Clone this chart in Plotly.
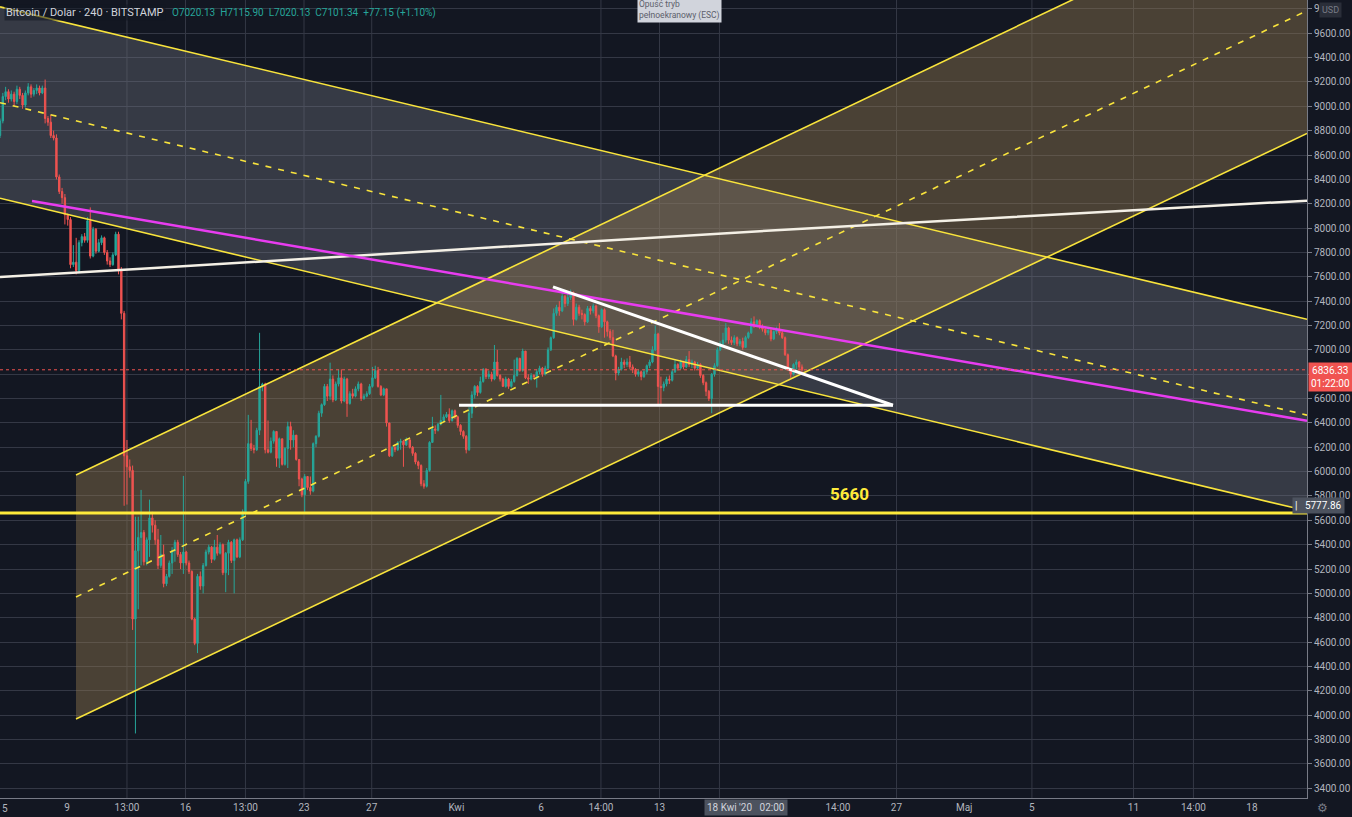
import pandas as pd
import plotly.graph_objects as go

BG = "#131722"
GRID = "#343845"
UP = "#26a69a"
DOWN = "#ef5350"
YELLOW = "#f9e43c"
MAGENTA = "#e83cf0"
TEXT = "#b2b5be"

# BTC/USD 4h candles (Bitstamp); one row = one day (6 bars)
first_open = 8760
closes = [
    8880, 9080, 9120, 9060, 9100, 9040,
    9140, 9090, 9010, 9110, 9160, 9100,
    9130, 9150, 9110, 9150, 8900, 8870,
    8760, 8740, 8420, 8300, 8250, 8110,
    8070, 7700, 7720, 7650, 7880, 7930,
    7900, 8060, 7770, 7990, 7810, 7880,
    7920, 7800, 7730, 7700, 7780, 7950,
    7650, 7300, 6130, 6040, 6010, 4790,
    5350, 5460, 5500, 5260, 5440, 5620,
    5560, 5440, 5230, 5320, 5080, 5140,
    5250, 5350, 5420, 5320, 5250, 5340,
    5250, 5180, 4790, 4590, 5140, 5060,
    5230, 5340, 5380, 5280, 5380, 5330,
    5400, 5170, 5330, 5420, 5270, 5440,
    5300, 5440, 5670, 5920, 6230, 6190,
    6180, 6340, 6700, 6720, 6180, 6160,
    6250, 6330, 6110, 6270, 6060, 6190,
    6370, 6260, 6300, 6100, 5940, 5810,
    5960, 5870, 5840, 6230, 6290, 6480,
    6550, 6700, 6620, 6760, 6590, 6720,
    6770, 6580, 6760, 6560, 6640, 6620,
    6680, 6720, 6600, 6620, 6640, 6700,
    6770, 6830, 6700, 6630, 6680, 6400,
    6130, 6200, 6180, 6240, 6250, 6220,
    6260, 6200, 6150, 6080, 6050, 5900,
    5880, 6010, 6240, 6350, 6340, 6390,
    6420, 6450, 6470, 6420, 6500, 6450,
    6380, 6330, 6290, 6180, 6480, 6630,
    6700, 6650, 6740, 6840, 6780, 6800,
    6760, 6900, 6790, 6760, 6700, 6760,
    6700, 6740, 6790, 6930, 6830, 6990,
    6770, 6760, 6790, 6780, 6820, 6850,
    6800, 6850, 7000, 7100, 7300, 7350,
    7320, 7440, 7380, 7430, 7470, 7250,
    7350, 7300, 7290, 7230, 7340, 7320,
    7360, 7280, 7190, 7330, 7230, 7150,
    7100, 6950, 6810, 6840, 6900, 6880,
    6900, 6860, 6840, 6800, 6820, 6780,
    6820, 6870, 6900, 7000, 7130, 6700,
    6690, 6720, 6760, 6750, 6820, 6880,
    6850, 6900, 6860, 6920, 6880, 6900,
    6850, 6880, 6790, 6730, 6660, 6600,
    6800, 6870, 7000, 7050, 7080, 7180,
    7080, 7060, 7100, 7050, 7070, 7020.13,
    7101.34, 7140, 7230, 7210, 7240, 7190,
    7170, 7140, 7160, 7090, 7150, 7170,
    7140, 7100, 6960, 6840, 6800, 6880,
    6900, 6860, 6836.33,
]
highs = [
    8900, 9110, 9160, 9140, 9130, 9120,
    9170, 9160, 9110, 9130, 9190, 9180,
    9150, 9180, 9170, 9170, 9220, 8920,
    8930, 8800, 8770, 8440, 8330, 8280,
    8120, 8090, 7860, 7920, 7900, 7950,
    7960, 8090, 8170, 8010, 8000, 7910,
    7940, 7930, 7820, 7760, 7800, 7970,
    7970, 7680, 7320, 6260, 6100, 6050,
    5630, 5630, 5850, 5520, 5460, 5770,
    5670, 5600, 5530, 5480, 5400, 5160,
    5270, 5380, 5440, 5440, 5340, 5965,
    5350, 5270, 5190, 4800, 5160, 5180,
    5250, 5360, 5400, 5390, 5440, 5480,
    5420, 5410, 5340, 5440, 5430, 5450,
    5450, 5460, 5690, 5940, 6466, 6425,
    6220, 6360, 7140, 6730, 6730, 6420,
    6280, 6340, 6330, 6280, 6270, 6200,
    6410, 6410, 6340, 6300, 6100, 5950,
    5980, 5960, 5960, 6240, 6300, 6500,
    6560, 6720, 6720, 6895, 6790, 6740,
    6840, 6840, 6780, 6770, 6660, 6680,
    6700, 6740, 6730, 6640, 6660, 6720,
    6860, 6870, 6860, 6710, 6690, 6680,
    6400, 6210, 6220, 6250, 6270, 6260,
    6280, 6270, 6210, 6160, 6090, 6060,
    5930, 6030, 6250, 6450, 6380, 6400,
    6630, 6470, 6490, 6520, 6510, 6510,
    6460, 6390, 6340, 6300, 6530, 6660,
    6710, 6710, 6780, 6850, 6850, 6830,
    6820, 7040, 7000, 6800, 6770, 6780,
    6770, 6760, 6920, 6940, 6935, 7010,
    6990, 6800, 6810, 6800, 6840, 6870,
    6860, 6870, 7020, 7110, 7340, 7370,
    7400, 7470, 7450, 7460, 7495, 7480,
    7380, 7370, 7330, 7300, 7360, 7360,
    7380, 7370, 7290, 7340, 7340, 7240,
    7170, 7165, 6960, 6860, 6935, 6920,
    6930, 6950, 6880, 6850, 6840, 6830,
    6840, 6880, 6920, 7030, 7200, 7140,
    6780, 6740, 6780, 6790, 6840, 6920,
    6890, 6920, 6910, 6950, 6990, 6920,
    6910, 6900, 6890, 6800, 6740, 6670,
    6810, 6890, 7020, 7070, 7140, 7220,
    7190, 7110, 7120, 7110, 7090, 7100,
    7115.90, 7150, 7260, 7275, 7250, 7250,
    7210, 7180, 7180, 7170, 7160, 7190,
    7220, 7160, 7110, 6970, 6850, 6890,
    6920, 6910, 6880,
]
lows = [
    8740, 8860, 9050, 9030, 9040, 9000,
    9020, 9060, 8980, 8990, 9090, 9070,
    9080, 9100, 9090, 9100, 8860, 8840,
    8740, 8720, 8400, 8280, 8200, 8030,
    8020, 7670, 7680, 7620, 7640, 7850,
    7880, 7880, 7750, 7760, 7790, 7800,
    7860, 7780, 7700, 7680, 7690, 7770,
    7620, 7250, 5720, 5730, 5950, 4700,
    3850, 4870, 5230, 5230, 5230, 5300,
    5500, 5400, 5200, 5210, 5050, 5060,
    5130, 5160, 5260, 5300, 5200, 5160,
    5230, 5160, 4780, 4575, 4510, 5030,
    5000, 5220, 5320, 5250, 5270, 5310,
    5320, 5150, 5010, 5150, 5250, 5000,
    5290, 5290, 5430, 5630, 5900, 6170,
    6150, 6170, 6300, 6660, 6150, 6150,
    6150, 6230, 6040, 6030, 6050, 6050,
    6030, 6180, 6200, 6090, 5880, 5790,
    5670, 5850, 5810, 5830, 6200, 6280,
    6450, 6540, 6580, 6590, 6570, 6580,
    6700, 6560, 6570, 6450, 6550, 6600,
    6610, 6660, 6580, 6590, 6610, 6630,
    6690, 6760, 6690, 6620, 6620, 6370,
    6120, 6120, 6160, 6170, 6180, 6040,
    6210, 6190, 6130, 6060, 6020, 5880,
    5860, 5870, 6000, 6240, 6310, 6330,
    6380, 6410, 6440, 6400, 6410, 6430,
    6360, 6300, 6270, 6150, 6170, 6440,
    6600, 6620, 6640, 6730, 6760, 6760,
    6740, 6750, 6780, 6740, 6700, 6690,
    6680, 6690, 6730, 6780, 6820, 6820,
    6760, 6720, 6750, 6760, 6690, 6800,
    6780, 6790, 6840, 6990, 7090, 7280,
    7280, 7310, 7350, 7360, 7410, 7200,
    7240, 7280, 7250, 7200, 7220, 7290,
    7300, 7260, 7140, 7180, 7100, 7110,
    7080, 6940, 6750, 6790, 6830, 6850,
    6860, 6840, 6810, 6780, 6780, 6750,
    6770, 6800, 6850, 6890, 6990, 6550,
    6550, 6660, 6700, 6720, 6740, 6810,
    6830, 6840, 6840, 6850, 6860, 6850,
    6830, 6840, 6770, 6710, 6620, 6580,
    6480, 6780, 6860, 6990, 7030, 7060,
    7050, 7040, 7040, 7030, 7030, 7000,
    7020.13, 7090, 7130, 7180, 7200, 7170,
    7150, 7120, 7120, 7070, 7080, 7130,
    7120, 7090, 6950, 6830, 6770, 6790,
    6840, 6830, 6800,
]
opens = [first_open] + closes[:-1]
bar_times = (pd.date_range("2020-03-05 00:00", periods=len(closes), freq="4h", tz="UTC")
             .tz_convert("Europe/Warsaw").tz_localize(None))

x_left, x_right = "2020-03-05 01:00", "2020-05-21 06:00"

# falling channel (grey)
down_t = [x_left, x_right]
down_upper = [9817, 7251]
down_mid = [9030, 6464]
down_lower_edge = [8245, 5677]
down_lower_t = [x_left, "2020-05-20 10:00"]
down_lower = [8245, 5705]

# rising channel (brown)
up_t = ["2020-03-09 12:45", x_right]
up_upper = [5973, 10793]
up_mid = [4971, 9785]
up_lower = [3969, 8777]

magenta_t = ["2020-03-06 22:25", x_right]
magenta_p = [8223, 6418]

ma_t = ["2020-03-05 01:00", "2020-03-13 21:40", "2020-03-31 15:00",
        "2020-04-20 02:50", "2020-05-07 20:00", "2020-05-21 06:00"]
ma_p = [7599, 7670, 7820, 7985, 8122, 8225]

tri_t = ["2020-04-06 17:00", "2020-04-26 19:00", "2020-04-01 03:45"]
tri_p = [7517, 6545, 6545]

support = 5660
last_price = 6836.33

tick_times = ["2020-03-09", "2020-03-12 13:00", "2020-03-16", "2020-03-19 13:00",
              "2020-03-23", "2020-03-27", "2020-04-01", "2020-04-06",
              "2020-04-09 13:00", "2020-04-13", "2020-04-23 13:00", "2020-04-27",
              "2020-05-01", "2020-05-05", "2020-05-11", "2020-05-14 13:00", "2020-05-18"]
tick_text = ["9", "13:00", "16", "13:00", "23", "27", "Kwi", "6", "14:00", "13",
             "14:00", "27", "Maj", "5", "11", "14:00", "18"]
vgrid_times = ["2020-03-12 13:00", "2020-03-16", "2020-03-19 13:00", "2020-03-23",
               "2020-03-27", "2020-04-09 13:00", "2020-04-13", "2020-04-16 13:00",
               "2020-04-27", "2020-05-05", "2020-05-11", "2020-05-14 13:00"]
price_ticks = list(range(3400, 9801, 200))
# 6800 sits under the red last-price label, 9800 mostly under the USD badge
price_text = ["" if v == 6800 else "9" if v == 9800 else f"{v:.2f}" for v in price_ticks]

Y_RANGE = [3320, 9873]
PW, PH = 1307, 798


def px(x):
    return x / PW


def py(y):
    return 1 - y / PH


fig = go.Figure()

# channel fills sit on the base axis, under the candles
fig.add_trace(go.Scatter(
    x=down_t + down_t[::-1], y=down_upper + down_lower_edge[::-1],
    fill="toself", fillcolor="rgba(120,123,134,0.35)", mode="none", hoverinfo="skip"))
fig.add_trace(go.Scatter(
    x=up_t + up_t[::-1], y=up_upper + up_lower[::-1],
    fill="toself", fillcolor="rgba(150,125,80,0.42)", mode="none", hoverinfo="skip"))

fig.add_trace(go.Candlestick(
    x=bar_times, open=opens, high=highs, low=lows, close=closes, yaxis="y2",
    increasing=dict(line=dict(color=UP, width=1), fillcolor=UP),
    decreasing=dict(line=dict(color=DOWN, width=1), fillcolor=DOWN),
    whiskerwidth=0, hoverinfo="skip"))


def line(x, y, color, width, dash="solid"):
    fig.add_trace(go.Scatter(x=x, y=y, mode="lines", yaxis="y2", hoverinfo="skip",
                             line=dict(color=color, width=width, dash=dash)))


line(down_t, down_upper, YELLOW, 1.6)
line(down_lower_t, down_lower, YELLOW, 1.6)
line(down_t, down_mid, YELLOW, 1.6, "6px,7px")
line(up_t, up_upper, YELLOW, 1.6)
line(up_t, up_lower, YELLOW, 1.6)
line(up_t, up_mid, YELLOW, 1.6, "6px,7px")
line(ma_t, ma_p, "#f4f0e6", 2.5)
line(magenta_t, magenta_p, MAGENTA, 2.5)
line(tri_t[:2], tri_p[:2], "#ffffff", 3)
line(tri_t[1:], tri_p[1:], "#ffffff", 3)
line([x_left, x_right], [support, support], "#ffeb3b", 3)
line([x_left, x_right], [last_price, last_price], DOWN, 1, "dot")

shapes = [dict(type="line", xref="x", yref="paper", x0=t, x1=t, y0=0, y1=1,
               line=dict(color=GRID, width=1), layer="below") for t in vgrid_times]

ann = []
ann.append(dict(xref="paper", yref="paper", x=px(4), y=py(13), xanchor="left", yanchor="middle",
                text="Bitcoin / Dolar · 240 · BITSTAMP", showarrow=False,
                font=dict(size=11, color="#d1d4dc"), bgcolor="rgba(19,23,34,0.55)"))
ann.append(dict(xref="paper", yref="paper", x=px(170), y=py(13), xanchor="left", yanchor="middle",
                text="O7020.13  H7115.90  L7020.13  C7101.34  +77.15 (+1.10%)", showarrow=False,
                font=dict(size=10, color=UP)))
ann.append(dict(xref="paper", yref="paper", x=px(679), y=py(10), xanchor="center", yanchor="middle",
                text="Opuść tryb<br>pełnoekranowy (ESC)", showarrow=False, align="left",
                font=dict(size=8.5, color="#5d606b"), bgcolor="#d1d4dc", borderpad=1))
ann.append(dict(xref="x", yref="y", x="2020-04-24 06:00", y=5817, text="<b>5660</b>",
                showarrow=False, font=dict(size=17, color="#ffeb3b")))
ann.append(dict(xref="paper", yref="paper", x=px(1330), y=py(10), xanchor="center", yanchor="middle",
                text="USD", showarrow=False,
                font=dict(size=9, color="#787b86"), bgcolor="#2a2e39", borderpad=2))
ann.append(dict(xref="paper", yref="y", x=px(1308), y=6900, xanchor="left", yanchor="top",
                text="6836.33<br>01:22:00", showarrow=False, align="center",
                font=dict(size=10, color="#ffffff"), bgcolor="#f05350", borderpad=2))
ann.append(dict(xref="paper", yref="y", x=px(1292), y=5718, xanchor="left", yanchor="middle",
                text="|   5777.86", showarrow=False,
                font=dict(size=10, color="#ffffff"), bgcolor="#4c525e", borderpad=2))
ann.append(dict(xref="x", yref="paper", x="2020-04-18 02:00", y=py(807), yanchor="middle",
                text="18 Kwi '20   02:00", showarrow=False,
                font=dict(size=10, color="#d1d4dc"), bgcolor="#4c525e", borderpad=2))
ann.append(dict(xref="paper", yref="paper", x=px(0), y=py(808), yanchor="middle",
                text="5", showarrow=False, font=dict(size=10, color=TEXT)))
ann.append(dict(xref="paper", yref="paper", x=px(1330), y=py(808), yanchor="middle",
                text="⚙", showarrow=False, font=dict(size=12, color="#787b86")))

fig.update_layout(
    width=1352, height=817,
    margin=dict(l=0, r=45, t=0, b=19),
    paper_bgcolor=BG, plot_bgcolor=BG,
    showlegend=False,
    font=dict(family="Roboto, sans-serif", color=TEXT, size=10),
    xaxis=dict(type="date", range=[x_left, x_right], tickvals=tick_times, ticktext=tick_text,
               showgrid=False, zeroline=False, showline=True, linecolor="#787b86",
               ticks="", rangeslider=dict(visible=False), fixedrange=True,
               tickfont=dict(size=10, color=TEXT)),
    yaxis=dict(range=Y_RANGE, side="right", tickvals=price_ticks, ticktext=price_text,
               showgrid=True, gridcolor=GRID, zeroline=False, showline=True,
               linecolor="#787b86", ticks="outside", ticklen=4, tickcolor="#787b86",
               tickfont=dict(size=10, color=TEXT), fixedrange=True),
    yaxis2=dict(range=Y_RANGE, overlaying="y", visible=False, fixedrange=True),
    shapes=shapes,
    annotations=ann,
)

# the page's default 8px body margin would shift the chart off the window edges
fig.write_html("out.html", config={"displayModeBar": False},
               post_script="document.body.style.margin='0px';")
